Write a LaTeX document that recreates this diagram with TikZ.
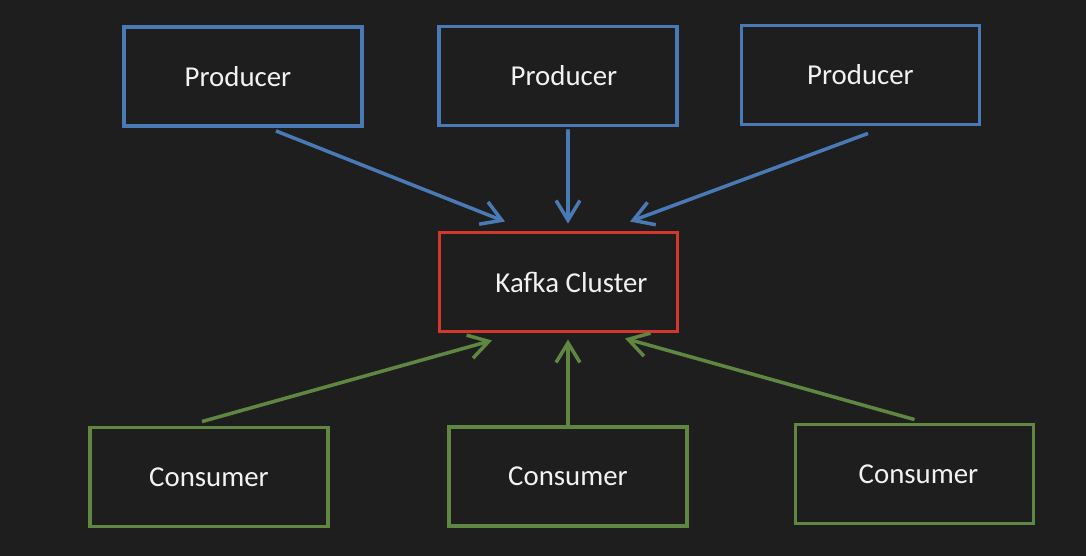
\documentclass[tikz,border=0pt]{standalone}
\usepackage{fontspec}
\setmainfont{Carlito}
\usetikzlibrary{calc}
\usetikzlibrary{arrows.meta}
\definecolor{bgdark}{HTML}{1E1E1E}
\definecolor{prodblue}{HTML}{4A7AB5}
\definecolor{kafkared}{HTML}{D2382C}
\definecolor{consgreen}{HTML}{5F8741}
\definecolor{txtwhite}{HTML}{F2F2F2}
\tikzset{
	box/.style={draw, line width=2.6pt, minimum width=5.95cm, minimum height=2.48cm, text=txtwhite, font=\fontsize{20.5}{24}\selectfont},
	flow/.style={line width=2.5pt, -{Straight Barb[length=14pt, width=17pt, line width=2.5pt]}},
}

\begin{document}
\begin{tikzpicture}[x=0.025cm, y=-0.025cm]
		\fill[bgdark] (0,0) rectangle (1086,556);
		\useasboundingbox (0,0) rectangle (1086,556);
		% producers
		\node[box, prodblue] (p1) at (243,76.5) {\textcolor{txtwhite}{Producer\hspace{0.25cm}}};
		\node[box, prodblue] (p2) at (558,76) {\textcolor{txtwhite}{\hspace{0.3cm}Producer}};
		\node[box, prodblue] (p3) at (860.5,75) {\textcolor{txtwhite}{Producer}};
		% cluster
		\node[box, kafkared] (kafka) at (558.5,282) {\textcolor{txtwhite}{\hspace{0.65cm}Kafka Cluster}};
		% consumers
		\node[box, consgreen] (c1) at (209,477) {\textcolor{txtwhite}{Consumer}};
		\node[box, consgreen] (c2) at (568,476.5) {\textcolor{txtwhite}{Consumer}};
		\node[box, consgreen] (c3) at (914.5,474) {\textcolor{txtwhite}{\hspace{0.2cm}Consumer}};
		\draw[flow, prodblue] ($(p1.south)+(33,3)$) -- ($(kafka.north)+(-53.5,-9)$);
		\draw[flow, prodblue] ($(p2.south)+(10,2)$) -- ($(kafka.north)+(9.5,-7)$);
		\draw[flow, prodblue] ($(p3.south)+(7.5,7)$) -- ($(kafka.north)+(71.5,-9)$);
		\draw[flow, consgreen] ($(c1.north)+(-7,-4)$) -- ($(kafka.south)+(-66.5,7)$);
		\draw[flow, consgreen] (c2.north) -- ($(kafka.south)+(9.5,6)$);
		\draw[flow, consgreen] ($(c3.north)+(0,-3)$) -- ($(kafka.south)+(66.5,5)$);
	\end{tikzpicture}
\end{document}
